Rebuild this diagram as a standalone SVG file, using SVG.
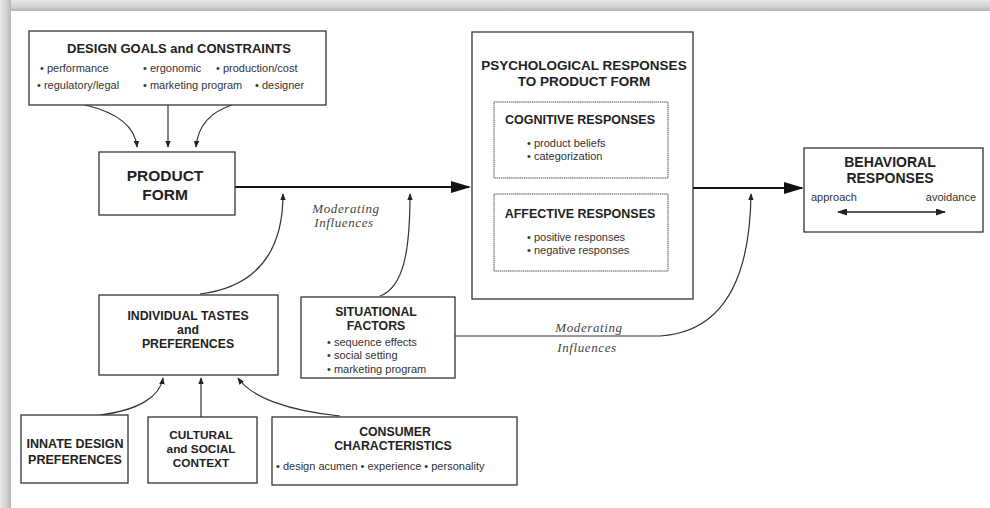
<svg xmlns="http://www.w3.org/2000/svg" width="990" height="508" viewBox="0 0 990 508">
<defs>
<linearGradient id="gTop" x1="0" y1="0" x2="0" y2="1"><stop offset="0" stop-color="#e8e8e8"/><stop offset="0.6" stop-color="#d2d2d2"/><stop offset="1" stop-color="#b4b4b4"/></linearGradient>
<linearGradient id="gLeft" x1="0" y1="0" x2="1" y2="0"><stop offset="0" stop-color="#e8e8e8"/><stop offset="0.6" stop-color="#d2d2d2"/><stop offset="1" stop-color="#b4b4b4"/></linearGradient>
<marker id="ah" viewBox="0 0 10 10" refX="9" refY="5" markerWidth="7" markerHeight="7" markerUnits="userSpaceOnUse" orient="auto"><path d="M0,1 L10,5 L0,9 Z" fill="#222"/></marker>
<marker id="ahBig" viewBox="0 0 10 10" refX="9" refY="5" markerWidth="20" markerHeight="12" markerUnits="userSpaceOnUse" orient="auto" preserveAspectRatio="none"><path d="M0,0 L10,5 L0,10 Z" fill="#111"/></marker>
<marker id="ahS" viewBox="0 0 10 10" refX="9" refY="5" markerWidth="10" markerHeight="7" markerUnits="userSpaceOnUse" orient="auto-start-reverse" preserveAspectRatio="none"><path d="M0,0 L10,5 L0,10 Z" fill="#222"/></marker>
</defs>
<style>
.box{fill:#fff;stroke:#333;stroke-width:1.3}
.ibox{fill:#fff;stroke:#555;stroke-width:1;stroke-dasharray:1.5 0.6}
.h{font-family:"Liberation Sans",Arial,sans-serif;font-weight:bold;fill:#222;text-anchor:middle}
.t{font-family:"Liberation Sans",Arial,sans-serif;fill:#333;font-size:11px}
.m{font-family:"Liberation Serif","Times New Roman",serif;font-style:italic;fill:#444;font-size:13px;text-anchor:middle;letter-spacing:0.6px}
.c{fill:none;stroke:#333;stroke-width:1.2}
.cb{fill:none;stroke:#111;stroke-width:2.2}
</style>
<rect x="0" y="0" width="990" height="508" fill="#fff"/>
<rect x="0" y="0" width="990" height="11" fill="url(#gTop)"/>
<rect x="0" y="0" width="11" height="508" fill="url(#gLeft)"/>

<g id="connectors">
<path class="c" d="M 85 105 C 115 112, 135 125, 137 147" marker-end="url(#ah)"/>
<path class="c" d="M 168 105 L 168 147" marker-end="url(#ah)"/>
<path class="c" d="M 232 105 C 210 112, 198 125, 196 147" marker-end="url(#ah)"/>
<path class="cb" d="M 235 187 L 469 187" marker-end="url(#ahBig)"/>
<path class="cb" d="M 693 188 L 802 188" marker-end="url(#ahBig)"/>
<path class="c" d="M 200 294 C 262 286, 283 245, 283 194" marker-end="url(#ah)"/>
<path class="c" d="M 380 296 C 404 287, 410 250, 410 194" marker-end="url(#ah)"/>
<path class="c" d="M 455 336 L 660 336 C 722 332, 750 280, 751 194" marker-end="url(#ah)"/>
<path class="c" d="M 100 415 C 140 410, 160 396, 163 378" marker-end="url(#ah)"/>
<path class="c" d="M 201 417 L 201 378" marker-end="url(#ah)"/>
<path class="c" d="M 340 416 C 290 411, 252 398, 238 378" marker-end="url(#ah)"/>
</g>

<g id="design-goals">
<rect class="box" x="29" y="31" width="297" height="74"/>
<text class="h" x="179" y="53" font-size="13">DESIGN GOALS and CONSTRAINTS</text>
<text class="t" x="40" y="72">• performance</text>
<text class="t" x="143" y="72">• ergonomic</text>
<text class="t" x="216" y="72">• production/cost</text>
<text class="t" x="37" y="89">• regulatory/legal</text>
<text class="t" x="143" y="89">• marketing program</text>
<text class="t" x="255" y="89">• designer</text>
</g>

<g id="product-form">
<rect class="box" x="99" y="152" width="136" height="63"/>
<text class="h" x="165" y="181" font-size="15.5">PRODUCT</text>
<text class="h" x="165" y="200" font-size="15.5">FORM</text>
</g>

<g id="psych-responses">
<rect class="box" x="472" y="32" width="221" height="267"/>
<text class="h" x="584" y="70" font-size="13.5">PSYCHOLOGICAL RESPONSES</text>
<text class="h" x="584" y="86" font-size="13.5">TO PRODUCT FORM</text>
</g>

<g id="cognitive">
<rect class="ibox" x="494" y="102" width="174" height="76"/>
<text class="h" x="580" y="124" font-size="12.5">COGNITIVE RESPONSES</text>
<text class="t" x="527" y="147" font-size="12">• product beliefs</text>
<text class="t" x="527" y="160" font-size="12">• categorization</text>
</g>

<g id="affective">
<rect class="ibox" x="494" y="194" width="174" height="77"/>
<text class="h" x="580" y="218" font-size="12.5">AFFECTIVE RESPONSES</text>
<text class="t" x="527" y="241" font-size="12">• positive responses</text>
<text class="t" x="527" y="254" font-size="12">• negative responses</text>
</g>

<g id="behavioral">
<rect class="box" x="804" y="148" width="179" height="84"/>
<text class="h" x="890" y="167" font-size="14">BEHAVIORAL</text>
<text class="h" x="890" y="183" font-size="14">RESPONSES</text>
<text class="t" x="811" y="201" font-size="13.5">approach</text>
<text class="t" x="976" y="201" font-size="13.5" text-anchor="end">avoidance</text>
<path fill="none" stroke="#222" stroke-width="1.3" d="M 838 212 L 945 212" marker-start="url(#ahS)" marker-end="url(#ahS)"/>
</g>

<g id="individual-tastes">
<rect class="box" x="99" y="295" width="179" height="80"/>
<text class="h" x="188" y="320" font-size="12.3">INDIVIDUAL TASTES</text>
<text class="h" x="188" y="334" font-size="12.3">and</text>
<text class="h" x="188" y="348" font-size="12.3">PREFERENCES</text>
</g>

<g id="situational">
<rect class="box" x="301" y="297" width="154" height="81"/>
<text class="h" x="376" y="316" font-size="12.3">SITUATIONAL</text>
<text class="h" x="376" y="330" font-size="12.3">FACTORS</text>
<text class="t" x="327" y="346" font-size="12">• sequence effects</text>
<text class="t" x="327" y="359" font-size="12">• social setting</text>
<text class="t" x="327" y="373" font-size="12">• marketing program</text>
</g>

<g id="moderating-labels">
<text class="m" x="346" y="213">Moderating</text>
<text class="m" x="344" y="227">Influences</text>
<text class="m" x="589" y="332">Moderating</text>
<text class="m" x="587" y="352">Influences</text>
</g>

<g id="innate">
<rect class="box" x="21" y="415" width="107" height="68"/>
<text class="h" x="75" y="448" font-size="12.5">INNATE DESIGN</text>
<text class="h" x="75" y="464" font-size="12.5">PREFERENCES</text>
</g>

<g id="cultural">
<rect class="box" x="148" y="417" width="109" height="66"/>
<text class="h" x="201" y="439" font-size="11.8">CULTURAL</text>
<text class="h" x="201" y="453" font-size="11.8">and SOCIAL</text>
<text class="h" x="201" y="467" font-size="11.8">CONTEXT</text>
</g>

<g id="consumer">
<rect class="box" x="272" y="417" width="245" height="68"/>
<text class="h" x="395" y="436" font-size="12.3">CONSUMER</text>
<text class="h" x="393" y="450" font-size="12.3">CHARACTERISTICS</text>
<text class="t" x="276" y="470" font-size="11.8">• design acumen • experience • personality</text>
</g>
</svg>
